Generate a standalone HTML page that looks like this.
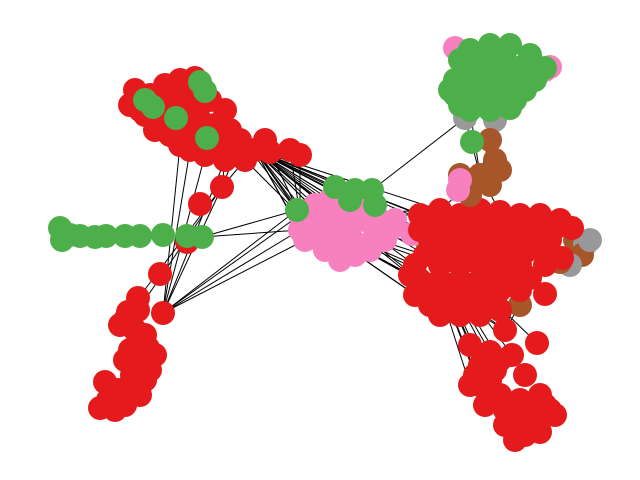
<!DOCTYPE html>
<html><head><meta charset="utf-8"><style>
html,body{margin:0;padding:0;background:#fff;font-family:"Liberation Sans",sans-serif}
svg{display:block}
</style></head><body>
<svg id="chart" width="640" height="480" viewBox="0 0 640 480">
<g id="edges"></g>
<g id="nodes"></g>
</svg>
<script>
const colorNames = {r:"#e41a1c", g:"#4daf4a", p:"#f781bf", b:"#a65628", y:"#999999"};
const clusterTopLeft = [[255,150,'r'],[140,110,'r'],[150,95,'r'],[165,85,'r'],[180,80,'r'],[195,78,'r'],[160,120,'r'],[175,100,'r'],[190,95,'r'],[210,100,'r'],[225,110,'r'],[170,135,'r'],[185,130,'r'],[200,120,'r'],[215,125,'r'],[230,130,'r'],[240,140,'r'],[190,150,'r'],[205,155,'r'],[220,150,'r'],[235,155,'r'],[250,150,'r'],[265,140,'r'],[270,152,'r'],[290,150,'r'],[300,155,'r'],[145,115,'r'],[130,105,'r'],[135,90,'r'],[160,100,'r'],[175,90,'r'],[185,110,'r'],[200,105,'r'],[215,140,'r'],[225,160,'r'],[245,160,'r'],[180,145,'r'],[195,140,'r'],[155,130,'r'],[165,110,'r'],[145,100,'g'],[153,107,'g'],[176,118,'g'],[200,82,'g'],[205,91,'g'],[207,138,'g']];
const clusterChain = [[222,187,'r'],[200,204,'r'],[187,242,'r'],[160,274,'r'],[138,298,'r']];
const clusterGreenLine = [[202,237,'g'],[60,228,'g'],[62,240,'g'],[70,235,'g'],[80,236,'g'],[95,237,'g'],[106,236,'g'],[125,236,'g'],[140,236,'g'],[163,235,'g'],[187,236,'g']];
const clusterBottomLeft = [[163,313,'r'],[125,320,'r'],[135,330,'r'],[140,345,'r'],[145,360,'r'],[135,370,'r'],[145,380,'r'],[130,385,'r'],[120,395,'r'],[110,405,'r'],[100,408,'r'],[115,410,'r'],[125,405,'r'],[140,395,'r'],[150,370,'r'],[155,355,'r'],[105,382,'r'],[130,350,'r'],[120,325,'r'],[128,312,'r'],[145,335,'r'],[125,360,'r'],[132,375,'r'],[118,390,'r'],[108,400,'r'],[148,348,'r'],[138,310,'r']];
const clusterCenter = [[300,215,'p'],[310,225,'p'],[300,230,'p'],[320,240,'p'],[335,235,'p'],[345,250,'p'],[355,255,'p'],[340,215,'p'],[360,220,'p'],[375,230,'p'],[385,240,'p'],[395,220,'p'],[330,200,'p'],[315,205,'p'],[350,235,'p'],[370,250,'p'],[310,218,'p'],[345,205,'p'],[305,240,'p'],[325,250,'p'],[340,260,'p'],[360,245,'p'],[380,220,'p'],[390,230,'p'],[365,210,'p'],[320,215,'p'],[330,225,'p'],[297,210,'g'],[335,187,'g'],[355,190,'g'],[372,190,'g'],[375,205,'g'],[350,200,'g'],[425,238,'g'],[412,234,'p']];
const clusterRight = [[420,230,'r'],[575,240,'b'],[585,245,'y'],[582,255,'b'],[570,265,'y'],[560,262,'b'],[520,305,'b'],[590,240,'y'],[420,215,'r'],[440,210,'r'],[460,215,'r'],[480,210,'r'],[500,212,'r'],[520,215,'r'],[540,215,'r'],[560,220,'r'],[572,228,'r'],[430,240,'r'],[450,240,'r'],[470,240,'r'],[490,240,'r'],[510,240,'r'],[530,240,'r'],[550,240,'r'],[415,265,'r'],[440,265,'r'],[460,265,'r'],[480,265,'r'],[500,265,'r'],[520,265,'r'],[545,265,'r'],[562,258,'r'],[415,295,'r'],[435,290,'r'],[460,290,'r'],[480,290,'r'],[500,290,'r'],[520,290,'r'],[440,315,'r'],[460,315,'r'],[480,315,'r'],[500,310,'r'],[545,294,'r'],[410,275,'r'],[425,255,'r'],[445,250,'r'],[465,252,'r'],[485,252,'r'],[505,252,'r'],[525,252,'r'],[545,252,'r'],[420,280,'r'],[440,280,'r'],[460,280,'r'],[480,280,'r'],[500,278,'r'],[450,300,'r'],[470,305,'r'],[490,300,'r'],[430,305,'r'],[510,280,'r'],[530,278,'r'],[555,228,'r'],[535,228,'r'],[515,228,'r'],[495,228,'r'],[475,228,'r'],[455,228,'r'],[435,225,'r']];
const clusterBottomRight = [[505,330,'r'],[470,345,'r'],[480,365,'r'],[490,380,'r'],[500,395,'r'],[510,405,'r'],[520,415,'r'],[530,425,'r'],[515,430,'r'],[540,420,'r'],[550,410,'r'],[540,395,'r'],[537,343,'r'],[525,375,'r'],[480,385,'r'],[500,360,'r'],[475,375,'r'],[490,395,'r'],[505,410,'r'],[520,400,'r'],[530,410,'r'],[545,405,'r'],[525,435,'r'],[510,420,'r'],[495,370,'r'],[470,385,'r'],[555,415,'r'],[540,432,'r'],[515,440,'r'],[505,425,'r'],[485,405,'r'],[512,355,'r'],[490,352,'r']];
const clusterTopRight = [[465,118,'y'],[455,48,'p'],[545,70,'p'],[550,67,'p'],[495,120,'y'],[460,60,'g'],[470,50,'g'],[490,45,'g'],[510,45,'g'],[530,55,'g'],[545,68,'g'],[455,80,'g'],[475,75,'g'],[495,70,'g'],[515,75,'g'],[535,80,'g'],[455,95,'g'],[475,95,'g'],[495,95,'g'],[515,100,'g'],[470,110,'g'],[490,110,'g'],[510,108,'g'],[465,70,'g'],[485,60,'g'],[505,60,'g'],[525,65,'g'],[465,85,'g'],[485,85,'g'],[505,85,'g'],[525,90,'g'],[450,90,'g'],[480,100,'g'],[500,105,'g'],[460,105,'g']];
const clusterBrown = [[480,175,'b'],[490,140,'b'],[495,160,'b'],[470,195,'b'],[490,185,'b'],[500,170,'b'],[460,175,'b'],[460,180,'p'],[458,190,'p'],[472,142,'g']];
const clusters = {tl:clusterTopLeft, ch:clusterChain, gl:clusterGreenLine, bl:clusterBottomLeft, c:clusterCenter, r:clusterRight, br:clusterBottomRight, tr:clusterTopRight, bn:clusterBrown};
const links = [['tl','c',14],['tl','r',10],['c','tl',6],['bl','c',4],['bl','tl',4],['c','r',18],['r','c',8],['r','br',12],['br','r',8],['gl','c',2],['ch','tl',3],['ch','bl',3],['tr','c',1],['bn','r',4],['bn','tr',3]];
const NS="http://www.w3.org/2000/svg";
const eg=document.getElementById('edges'), ng=document.getElementById('nodes');
links.forEach(([a,b,n])=>{
  const A=clusters[a],B=clusters[b];
  const hub=A[0];
  const sorted=B.slice().sort((p,q)=>Math.hypot(p[0]-hub[0],p[1]-hub[1])-Math.hypot(q[0]-hub[0],q[1]-hub[1]));
  for(let k=0;k<Math.min(n,sorted.length);k++){
    const q=sorted[k];
    const l=document.createElementNS(NS,'line');
    l.setAttribute('x1',hub[0]);l.setAttribute('y1',hub[1]);l.setAttribute('x2',q[0]);l.setAttribute('y2',q[1]);
    l.setAttribute('stroke','#000');l.setAttribute('stroke-width','1');
    
    
    eg.appendChild(l);
  }
});
Object.keys(clusters).forEach(key=>{
  clusters[key].forEach(([x,y,c])=>{
    const ci=document.createElementNS(NS,'circle');
    ci.setAttribute('cx',x);ci.setAttribute('cy',y);ci.setAttribute('r',12);
    ci.setAttribute('fill',colorNames[c]);
    
    
    ng.appendChild(ci);
  });
});
</script>
</body></html>
